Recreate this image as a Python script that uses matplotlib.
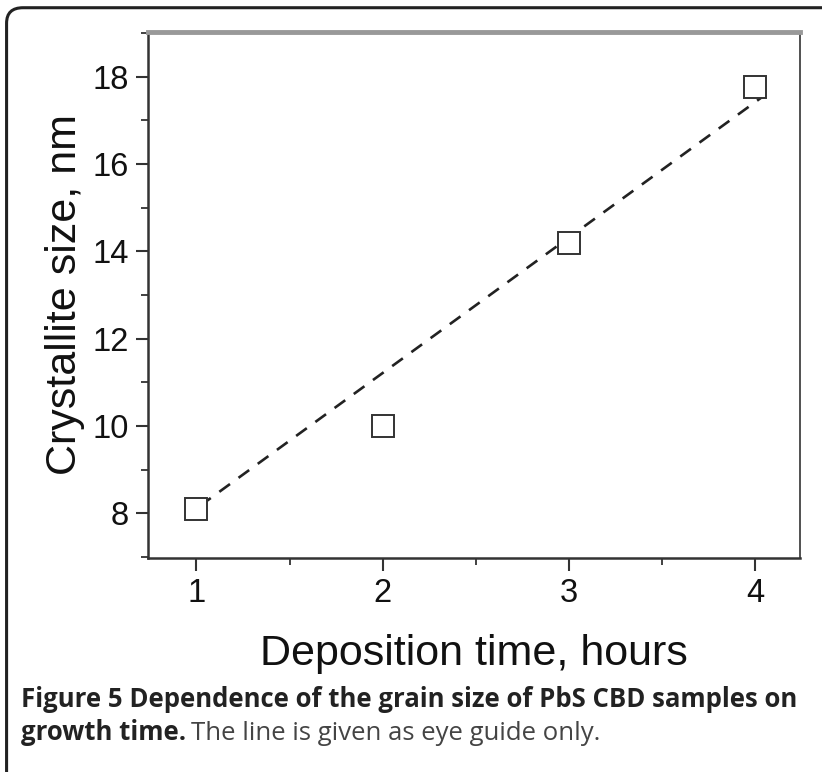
import matplotlib
matplotlib.use("Agg")
import matplotlib.pyplot as plt
from matplotlib.patches import FancyBboxPatch
from matplotlib.ticker import MultipleLocator

plt.rcParams["font.family"] = ["Liberation Sans", "DejaVu Sans"]

# data
time_h = [1, 2, 3, 4]
size_nm = [8.1, 10.0, 14.2, 17.77]
# eye-guide line end points
guide_x = [1.02, 4.04]
guide_y = [8.17, 17.54]

x_ticks = [1, 2, 3, 4]
y_ticks = [8, 10, 12, 14, 16, 18]

DARK = "#333333"

fig = plt.figure(figsize=(8.22, 7.72), dpi=100)
ax = fig.add_axes([0.180, 0.277, 0.793, 0.682])

ax.plot(guide_x, guide_y, ls=(0, (5, 4)), color="#222222", lw=1.9, zorder=2)
ax.plot(time_h, size_nm, ls="none", marker="s", ms=16, mfc="white",
        mec=DARK, mew=1.4, zorder=3)

ax.set_xlim(0.74, 4.24)
ax.set_ylim(6.97, 19.03)
ax.set_xticks(x_ticks)
ax.set_yticks(y_ticks)
ax.xaxis.set_minor_locator(MultipleLocator(0.5))
ax.yaxis.set_minor_locator(MultipleLocator(1))
ax.tick_params(which="major", direction="out", length=9, width=1.5,
               color=DARK, labelsize=23.5, pad=5, labelcolor="#111111")
ax.tick_params(which="minor", direction="out", length=5, width=1.3, color=DARK)

for s in ("left", "bottom"):
    ax.spines[s].set_linewidth(1.8)
    ax.spines[s].set_color(DARK)
ax.spines["right"].set_linewidth(1.2)
ax.spines["right"].set_color(DARK)
ax.spines["top"].set_linewidth(3.5)
ax.spines["top"].set_color("#999999")

ax.set_xlabel("Deposition time, hours", fontsize=31, labelpad=18, color="#111111")
ax.set_ylabel("Crystallite size, nm", fontsize=31, labelpad=5, color="#111111")

# outer rounded frame (right and bottom run off the image)
frame = FancyBboxPatch((0.008, -0.05), 1.1, 1.04, transform=fig.transFigure,
                       boxstyle="round,pad=0,rounding_size=0.02",
                       fill=False, ec="#222222", lw=2.2)
fig.patches.append(frame)

fig.text(0.025, 0.084, "Figure 5 Dependence of the grain size of PbS CBD samples on",
         fontsize=18.5, fontweight="bold", family="Open Sans", color="#222222")
t1 = fig.text(0.025, 0.041, "growth time.", fontsize=18.5, fontweight="bold",
              family="Open Sans", color="#222222")
fig.canvas.draw()
bb = t1.get_window_extent()
fig.text(bb.x1 / fig.bbox.width + 0.007, 0.041,
         "The line is given as eye guide only.", fontsize=18.5,
         family="Open Sans", color="#444444")

fig.savefig("out.png", dpi=100)
